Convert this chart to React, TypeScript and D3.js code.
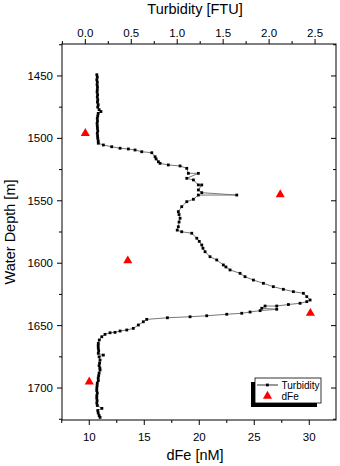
import React from "react";
import * as d3 from "d3";

const turbDepth = [
  1449, 1451, 1453, 1455, 1457, 1459, 1461, 1463, 1465, 1467, 1469, 1471, 1473, 1475, 1477, 1478.5, 1480, 1482, 1484, 1486, 1488, 1490, 1492, 1494, 1496, 1498, 1500, 1502, 1503.9,
  1505.3, 1506.7, 1507.9, 1508.5, 1509.3, 1510.7, 1511.5, 1514.7, 1518.7, 1516.5, 1520, 1521.3, 1522.1, 1524, 1528, 1528, 1532, 1533.3, 1537.3, 1537.3, 1541.3, 1543.5, 1545.4, 1545.4, 1548.8, 1550.7, 1554.7, 1558.7, 1561, 1564, 1567, 1570.8, 1573.5, 1574.8,
  1576, 1580, 1582.5, 1585.4, 1588, 1590.8, 1594.8, 1597.4, 1601.4, 1603, 1605.4, 1608.1, 1610.8, 1613.5, 1616.1, 1618.8, 1620.9, 1622.8, 1624.1, 1626.8, 1629.5, 1630.8, 1632.1, 1633.1, 1634.3, 1634.3, 1636.1, 1636.9, 1638, 1639.1, 1640.1, 1640.9, 1642.1, 1642.9, 1643.7, 1645, 1646.9, 1649.5, 1652.2, 1653.5, 1654.3, 1655.4, 1655.7, 1657, 1658.9, 1661.5, 1664.2,
  1666, 1668.2, 1670, 1672.2, 1673.6, 1675, 1677.6, 1680, 1682, 1684, 1685.6, 1688, 1690, 1692, 1694, 1696, 1698, 1700, 1702, 1704, 1706, 1708, 1710, 1712, 1714, 1716.3, 1718, 1720, 1722, 1723.5,
];
const turbValue = [
  0.125, 0.13, 0.125, 0.13, 0.128, 0.132, 0.13, 0.128, 0.133, 0.13, 0.135, 0.132, 0.14, 0.135, 0.15, 0.17, 0.14, 0.135, 0.13, 0.132, 0.128, 0.13, 0.132, 0.135, 0.13, 0.133, 0.135, 0.14, 0.141,
  0.196, 0.287, 0.378, 0.468, 0.541, 0.614, 0.723, 0.759, 0.795, 0.77, 0.813, 0.903, 1.031, 1.104, 1.121, 1.23, 1.104, 1.176, 1.23, 1.267, 1.23, 1.267, 1.648, 1.23, 1.176, 1.104, 1.049, 1.012, 1.02, 1.031, 1.02, 1.012, 1.0, 1.049,
  1.158, 1.213, 1.24, 1.267, 1.28, 1.303, 1.357, 1.43, 1.502, 1.53, 1.575, 1.684, 1.738, 1.829, 1.938, 2.046, 2.155, 2.264, 2.373, 2.41, 2.446, 2.41, 2.337, 2.21, 2.083, 1.956, 1.92, 2.083, 1.902, 1.793, 1.702, 1.539, 1.321, 1.14, 0.893, 0.668, 0.631, 0.577, 0.522, 0.451, 0.378, 0.323, 0.269, 0.214, 0.179, 0.152, 0.141,
  0.14, 0.141, 0.145, 0.141, 0.196, 0.15, 0.16, 0.155, 0.15, 0.158, 0.16, 0.15, 0.145, 0.14, 0.141, 0.13, 0.128, 0.125, 0.124, 0.13, 0.125, 0.124, 0.128, 0.125, 0.13, 0.18, 0.135, 0.14, 0.15, 0.16,
];

const dFeDepth = [1496, 1545, 1598, 1640, 1695];
const dFeValue = [9.64, 27.36, 13.5, 30.1, 10.0];

const depthTicks = [1450, 1500, 1550, 1600, 1650, 1700];
const depthMinor = [1425, 1475, 1525, 1575, 1625, 1675, 1725];
const dFeTicks = [10, 15, 20, 25, 30];
const dFeMinor = [7.5, 12.5, 17.5, 22.5, 27.5];
const turbTicks = [0.0, 0.5, 1.0, 1.5, 2.0, 2.5];
const turbMinor = [-0.25, 0.25, 0.75, 1.25, 1.75, 2.25];

const L = 62, R = 336, T = 44, B = 420;
const FONT = "Liberation Sans, Arial, sans-serif";

export default function App() {
  const y = d3.scaleLinear().domain([1424.4, 1725.6]).range([T, B]);
  const xFe = d3.scaleLinear().domain([7.52, 32.43]).range([L, R]);
  const xT = d3.scaleLinear().domain([-0.254, 2.728]).range([L, R]);

  const pts = turbDepth.map((d, i) => [xT(turbValue[i]), y(d)] as [number, number]);
  const line = d3.line()(pts) || "";
  const tri = d3.symbol().type(d3.symbolTriangle).size(36)() || "";

  return (
    <svg width={340} height={466} style={{ position: "absolute", left: 0, top: 0, background: "#fff" }} fontFamily={FONT}>
      {/* frame */}
      <rect x={L} y={T} width={R - L} height={B - T} fill="none" stroke="#000" strokeWidth={1} />
      {/* left axis */}
      {depthTicks.map((t) => (
        <g key={"yl" + t}>
          <line x1={L - 5} x2={L} y1={y(t)} y2={y(t)} stroke="#000" />
          <line x1={R - 5} x2={R} y1={y(t)} y2={y(t)} stroke="#000" />
          <text x={L - 9} y={y(t) + 4} fontSize={11.5} textAnchor="end">{t}</text>
        </g>
      ))}
      {depthMinor.map((t) => (
        <g key={"ym" + t}>
          <line x1={L - 3} x2={L} y1={y(t)} y2={y(t)} stroke="#000" />
          <line x1={R - 3} x2={R} y1={y(t)} y2={y(t)} stroke="#000" />
        </g>
      ))}
      {/* bottom axis */}
      {dFeTicks.map((t) => (
        <g key={"xb" + t}>
          <line x1={xFe(t)} x2={xFe(t)} y1={B} y2={B + 5} stroke="#000" />
          <text x={xFe(t)} y={440.5} fontSize={11.5} textAnchor="middle">{t}</text>
        </g>
      ))}
      {dFeMinor.map((t) => (
        <line key={"xbm" + t} x1={xFe(t)} x2={xFe(t)} y1={B} y2={B + 3} stroke="#000" />
      ))}
      {/* top axis */}
      {turbTicks.map((t) => (
        <g key={"xt" + t}>
          <line x1={xT(t)} x2={xT(t)} y1={T} y2={T - 5} stroke="#000" />
          <text x={xT(t)} y={36.5} fontSize={11.5} textAnchor="middle">{t.toFixed(1)}</text>
        </g>
      ))}
      {turbMinor.map((t) => (
        <line key={"xtm" + t} x1={xT(t)} x2={xT(t)} y1={T} y2={T - 3} stroke="#000" />
      ))}
      {/* titles */}
      <text x={195} y={14} fontSize={14.5} textAnchor="middle">Turbidity [FTU]</text>
      <text x={195} y={460} fontSize={14.5} textAnchor="middle">dFe [nM]</text>
      <text transform={`translate(15,${(T + B) / 2}) rotate(-90)`} fontSize={14.5} textAnchor="middle">Water Depth [m]</text>
      {/* turbidity */}
      <path d={line} fill="none" stroke="#777" strokeWidth={1} />
      {pts.map((p, i) => (
        <rect key={"p" + i} x={p[0] - 1.4} y={p[1] - 1.4} width={2.8} height={2.8} fill="#000" />
      ))}
      {/* dFe */}
      {dFeDepth.map((d, i) => (
        <path key={"f" + i} d={tri} transform={`translate(${xFe(dFeValue[i])},${y(d)})`} fill="#ff0000" />
      ))}
      {/* legend */}
      <rect x={251} y={382} width={66} height={25} fill="#000" />
      <rect x={255} y={378} width={66} height={25} fill="#fff" stroke="#000" strokeWidth={0.8} />
      <line x1={257} x2={278} y1={385} y2={385} stroke="#333" strokeWidth={1} />
      <rect x={266} y={383.6} width={2.8} height={2.8} fill="#000" />
      <text x={281.5} y={388.5} fontSize={10}>Turbidity</text>
      <path d={tri} transform={`translate(267.5,396)`} fill="#ff0000" />
      <text x={281.5} y={400} fontSize={10}>dFe</text>
    </svg>
  );
}
